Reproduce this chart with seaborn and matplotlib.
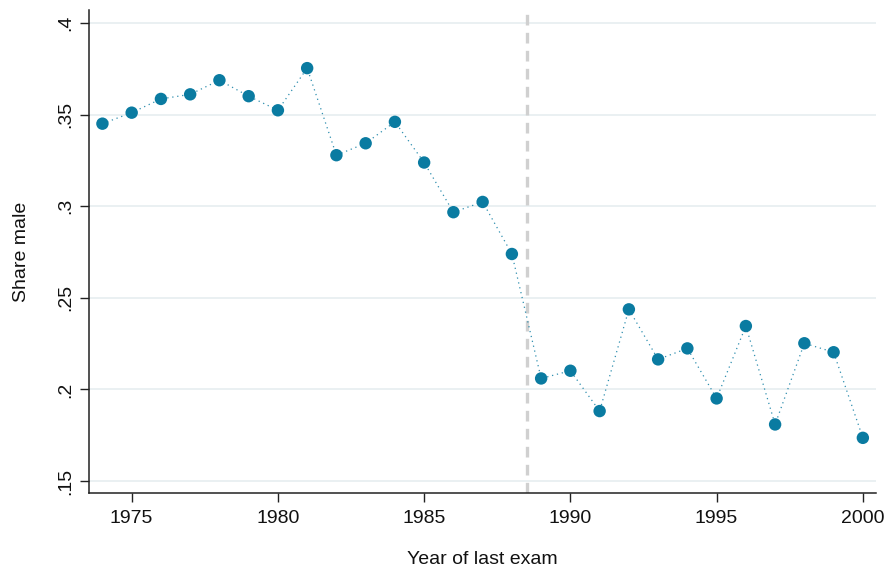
import matplotlib
matplotlib.use("Agg")
import matplotlib.pyplot as plt
import seaborn as sns
import pandas as pd

years = list(range(1974, 2001))
share_male = [0.345, 0.351, 0.3585, 0.361, 0.3687, 0.360, 0.3523, 0.3753,
              0.3278, 0.3343, 0.346, 0.3238, 0.2967, 0.3023, 0.2739, 0.206,
              0.2102, 0.1882, 0.2437, 0.2164, 0.2224, 0.1951, 0.2346, 0.1809,
              0.2252, 0.2203, 0.1736]
y_ticks = [0.15, 0.2, 0.25, 0.3, 0.35, 0.4]
y_tick_labels = [".15", ".2", ".25", ".3", ".35", ".4"]
x_ticks = [1975, 1980, 1985, 1990, 1995, 2000]
cutoff = 1988.5

df = pd.DataFrame({"year": years, "share": share_male})

sns.set_theme(style="white")
plt.rcParams["font.family"] = ["Liberation Sans", "DejaVu Sans"]

blue = "#0a7ba1"
fig = plt.figure(figsize=(8.88, 5.73), dpi=100)
ax = fig.add_axes([0.1002, 0.1396, 0.8863, 0.8429])

for t in y_ticks:
    ax.axhline(t, color="#eaf0f2", lw=1.4, zorder=0)
ax.axvline(cutoff, color="#d0d0d0", lw=2.4, dashes=(3.2, 2.2), zorder=1)

sns.lineplot(data=df, x="year", y="share", ax=ax, color=blue, lw=0.9,
             linestyle=(0, (1, 3)), alpha=0.85, zorder=2)
sns.scatterplot(data=df, x="year", y="share", ax=ax, color=blue, s=80,
                edgecolor="none", zorder=3)

ax.set_xlim(1973.54, 2000.45)
ax.set_ylim(0.1435, 0.407)
ax.set_xticks(x_ticks)
ax.set_xticklabels([str(x) for x in x_ticks])
ax.set_yticks(y_ticks)
ax.set_yticklabels(y_tick_labels, rotation=90, va="center")

for s in ["top", "right"]:
    ax.spines[s].set_visible(False)
for s in ["left", "bottom"]:
    ax.spines[s].set_color("#222222")
    ax.spines[s].set_linewidth(1.1)

ax.tick_params(axis="both", direction="out", length=6.3, width=1.0,
               bottom=True, left=True,
               color="#222222", labelsize=14, labelcolor="#111111", pad=4)
ax.tick_params(axis="x", pad=6)
ax.set_xlabel("Year of last exam", fontsize=14, color="#111111", labelpad=17)
ax.set_ylabel("Share male", fontsize=14, color="#111111", labelpad=20)

fig.savefig("out.png", dpi=100, facecolor="white")
